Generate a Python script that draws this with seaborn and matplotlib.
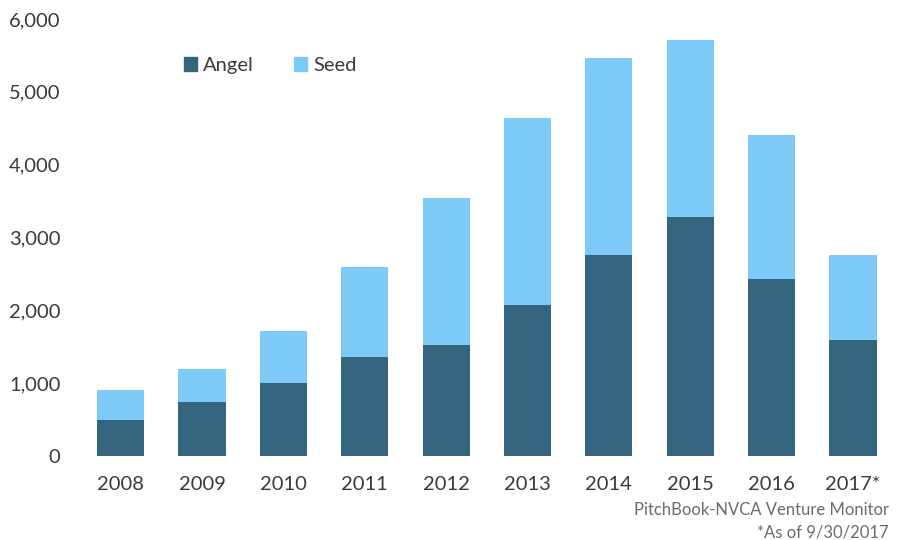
import pandas as pd
import matplotlib.pyplot as plt
import seaborn as sns
from matplotlib.patches import Patch

years = ['2008', '2009', '2010', '2011', '2012', '2013', '2014', '2015', '2016', '2017*']
angel = [494, 741, 1002, 1359, 1524, 2073, 2760, 3282, 2430, 1593]
seed = [412, 454, 714, 1236, 2018, 2568, 2705, 2430, 1977, 1167]

angel_color = '#35647E'
seed_color = '#7DC9F8'
text_color = '#3a3a3a'

df = pd.DataFrame({'year': years, 'angel': angel, 'seed': seed})
df['total'] = df['angel'] + df['seed']

sns.set_style('white')
plt.rcParams['font.family'] = ['Lato', 'DejaVu Sans']

fig = plt.figure(figsize=(8.99, 5.4), dpi=100)
ax = fig.add_axes([0.089, 0.1556, 0.905, 0.8092])

# stacked bars: total in seed colour, angel drawn over it
sns.barplot(ax=ax, data=df, x='year', y='total', color=seed_color, width=0.58,
            saturation=1, edgecolor='none')
sns.barplot(ax=ax, data=df, x='year', y='angel', color=angel_color, width=0.58,
            saturation=1, edgecolor='none')

ax.set_ylim(0, 6000)
ax.set_xlim(-0.5, 9.5)
ax.set_yticks(range(0, 6001, 1000))
ax.set_yticklabels([f'{v:,}' for v in range(0, 6001, 1000)])
ax.set_xlabel('')
ax.set_ylabel('')
ax.tick_params(axis='both', labelsize=14.5, colors=text_color, length=0)
ax.tick_params(axis='y', pad=14)
ax.tick_params(axis='x', pad=14.5)
for s in ax.spines.values():
    s.set_visible(False)

handles = [Patch(color=angel_color, label='Angel'), Patch(color=seed_color, label='Seed')]
ax.legend(handles=handles, loc='center left', bbox_to_anchor=(0.105, 0.893), ncol=2,
          frameon=False, handlelength=0.65, handleheight=0.65,
          handletextpad=0.3, columnspacing=2.0, labelcolor=text_color,
          prop={'size': 14.5})

fig.text(0.989, 0.055, 'PitchBook-NVCA Venture Monitor', ha='right', va='center',
         fontsize=12, color='#6b6b6b')
fig.text(0.989, 0.014, '*As of 9/30/2017', ha='right', va='center',
         fontsize=12, color='#6b6b6b')

plt.savefig('out.png', dpi=100)
